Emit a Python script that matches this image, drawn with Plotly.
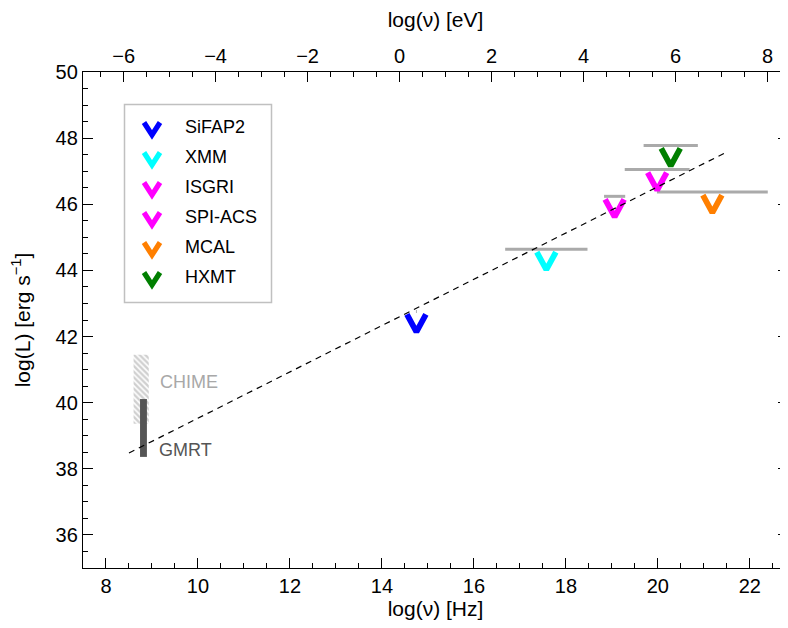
import plotly.graph_objects as go

# ---------------- data ----------------
LOG_HZ_PER_EV = 14.383   # log(nu[Hz]) - log(E[eV])

instruments = ["SiFAP2", "XMM", "ISGRI", "SPI-ACS", "MCAL", "HXMT"]
inst_colors = ["#0000ff", "#00ffff", "#ff00ff", "#ff00ff", "#ff7f00", "#007f00"]
band_lo = [14.74, 16.68, 18.83, 19.28, 19.98, 19.69]     # log(nu) [Hz]
band_hi = [14.76, 18.47, 19.29, 20.69, 22.39, 20.87]
lum_limit = [42.76, 44.64, 46.24, 47.05, 46.37, 47.78]   # log(L) [erg/s]

fit_x = [8.50, 21.47]
fit_y = [38.48, 47.56]

radio_names = ["CHIME", "GMRT"]
radio_nu_lo = [8.60, 8.74]
radio_nu_hi = [8.93, 8.89]
radio_L_lo = [39.36, 38.36]
radio_L_hi = [41.45, 40.11]
radio_label_x = [9.12, 9.10]
radio_label_y = [40.63, 38.57]
radio_label_colors = ["#a8a8a8", "#555555"]

x_ticks = [8, 10, 12, 14, 16, 18, 20, 22]
x2_ticks = [-6, -4, -2, 0, 2, 4, 6, 8]
y_ticks = [36, 38, 40, 42, 44, 46, 48, 50]

# ---------------- layout constants ----------------
BODY = 8                      # default page margin around the plot div
W, H = 788 - BODY, 628 - 2 * BODY
PL, PR, PT, PB = 83, 788, 72, 568   # plot area in page pixels
ML, MT = PL - BODY, PT - BODY
MR = W - (PR - BODY)
MB = H - (PB - BODY)
PW, PH = PR - PL, PB - PT
XR = [7.5, 22.83]
YR = [35, 50]
PX_X = PW / (XR[1] - XR[0])
PX_Y = PH / (YR[1] - YR[0])

FONT = "Liberation Sans"


def px2paper_x(px):
    return (px - PL) / PW


def px2paper_y(py):
    return (PB - py) / PH


fig = go.Figure()

# radio bands (CHIME hatched, GMRT solid)
fig.add_trace(go.Bar(
    x=[(radio_nu_lo[0] + radio_nu_hi[0]) / 2], y=[radio_L_hi[0] - radio_L_lo[0]],
    base=[radio_L_lo[0]], width=[radio_nu_hi[0] - radio_nu_lo[0]],
    marker=dict(color="white", line=dict(width=0),
                pattern=dict(shape="\\", fgcolor="#a0a0a0", bgcolor="white",
                             size=4, solidity=0.6)),
    showlegend=False, hoverinfo="skip"))
fig.add_trace(go.Bar(
    x=[(radio_nu_lo[1] + radio_nu_hi[1]) / 2], y=[radio_L_hi[1] - radio_L_lo[1]],
    base=[radio_L_lo[1]], width=[radio_nu_hi[1] - radio_nu_lo[1]],
    marker=dict(color="#555555", line=dict(width=0)),
    showlegend=False, hoverinfo="skip"))

# instrument bands (grey bars)
for lo, hi, L in zip(band_lo, band_hi, lum_limit):
    fig.add_trace(go.Scatter(x=[lo, hi], y=[L, L], mode="lines",
                             line=dict(color="#aaaaaa", width=3),
                             showlegend=False, hoverinfo="skip"))

# upper-limit V symbols
V_HALF = 9.5 / PX_X
V_TOP = 3 / PX_Y
V_APEX = 20.5 / PX_Y
for name, c, lo, hi, L in zip(instruments, inst_colors, band_lo, band_hi, lum_limit):
    xc = (lo + hi) / 2
    fig.add_trace(go.Scatter(
        x=[xc - V_HALF, xc, xc + V_HALF],
        y=[L - V_TOP, L - V_APEX, L - V_TOP],
        mode="lines", line=dict(color=c, width=5.8),
        name=name, showlegend=False))

# dashed fit line
fig.add_trace(go.Scatter(x=fit_x, y=fit_y, mode="lines",
                         line=dict(color="black", width=1.2, dash="6px,5px"),
                         showlegend=False, hoverinfo="skip"))

# dummy traces for the top axis and the right-hand tick axis
fig.add_trace(go.Scatter(x=[None], y=[None], xaxis="x2", showlegend=False,
                         hoverinfo="skip"))
fig.add_trace(go.Scatter(x=[None], y=[None], yaxis="y2", showlegend=False,
                         hoverinfo="skip"))

# radio labels
for name, lx, ly, lc in zip(radio_names, radio_label_x, radio_label_y, radio_label_colors):
    fig.add_annotation(x=lx, y=ly, text=name, showarrow=False, xanchor="left",
                       yanchor="middle", font=dict(family=FONT, size=18, color=lc))

# ---------------- legend (manual) ----------------
shapes = [dict(type="rect", xref="paper", yref="paper",
               x0=px2paper_x(124.5), x1=px2paper_x(271.5),
               y0=px2paper_y(302.5), y1=px2paper_y(104.5),
               line=dict(color="#c0c0c0", width=1.5), fillcolor="white", layer="below")]
for i, (name, c) in enumerate(zip(instruments, inst_colors)):
    cy = 127 + 30 * i
    cx = 152
    path = "M{:.5f},{:.5f} L{:.5f},{:.5f} L{:.5f},{:.5f}".format(
        px2paper_x(cx - 8), px2paper_y(cy - 4.5),
        px2paper_x(cx), px2paper_y(cy + 8),
        px2paper_x(cx + 8), px2paper_y(cy - 4.5))
    shapes.append(dict(type="path", xref="paper", yref="paper", path=path,
                       line=dict(color=c, width=5.2)))
    fig.add_annotation(xref="paper", yref="paper", x=px2paper_x(183), y=px2paper_y(cy),
                       text=name, showarrow=False, xanchor="left", yanchor="middle",
                       font=dict(family=FONT, size=18, color="black"))

tick_font = dict(family=FONT, size=20, color="black")
title_font = dict(family=FONT, size=21, color="black")
minor = dict(dtick=0.5, ticklen=5, ticks="inside", tickwidth=1.2, tickcolor="black")

fig.update_layout(
    width=W, height=H,
    margin=dict(l=ML, r=MR, t=MT, b=MB, autoexpand=False),
    plot_bgcolor="white", paper_bgcolor="white",
    showlegend=False, barmode="overlay",
    shapes=shapes,
    xaxis=dict(range=XR, tickvals=x_ticks, ticks="inside", ticklen=10, tickwidth=1.2,
               tickcolor="black", minor=minor, showline=True, linecolor="black",
               linewidth=1.3, showgrid=False, zeroline=False, tickfont=tick_font,
               automargin=False,
               title=dict(text="log(ν) [Hz]", font=title_font, standoff=5)),
    xaxis2=dict(range=[XR[0] - LOG_HZ_PER_EV, XR[1] - LOG_HZ_PER_EV], overlaying="x",
                side="top", anchor="y", tickvals=x2_ticks, ticks="inside", ticklen=10,
                tickwidth=1.2, tickcolor="black", minor=minor, showline=True,
                linecolor="black", linewidth=1.3, showgrid=False, zeroline=False,
                tickfont=tick_font, automargin=False,
                title=dict(text="log(ν) [eV]", font=title_font, standoff=11)),
    yaxis=dict(range=YR, tickvals=y_ticks, ticks="inside", ticklen=10, tickwidth=1.2,
               tickcolor="black", minor=minor, showline=True, linecolor="black",
               linewidth=1.3, mirror=False, showgrid=False, zeroline=False,
               tickfont=tick_font, automargin=False,
               title=dict(text="log(L) [erg s<sup>−1</sup>]", font=title_font, standoff=20)),
    yaxis2=dict(range=YR, tickvals=y_ticks, ticks="inside", ticklen=10, tickwidth=1.2,
                tickcolor="black", minor=minor, showline=False, showgrid=False,
                zeroline=False, showticklabels=False, overlaying="y", side="right",
                anchor="x", automargin=False),
)

fig.write_html("out.html")
